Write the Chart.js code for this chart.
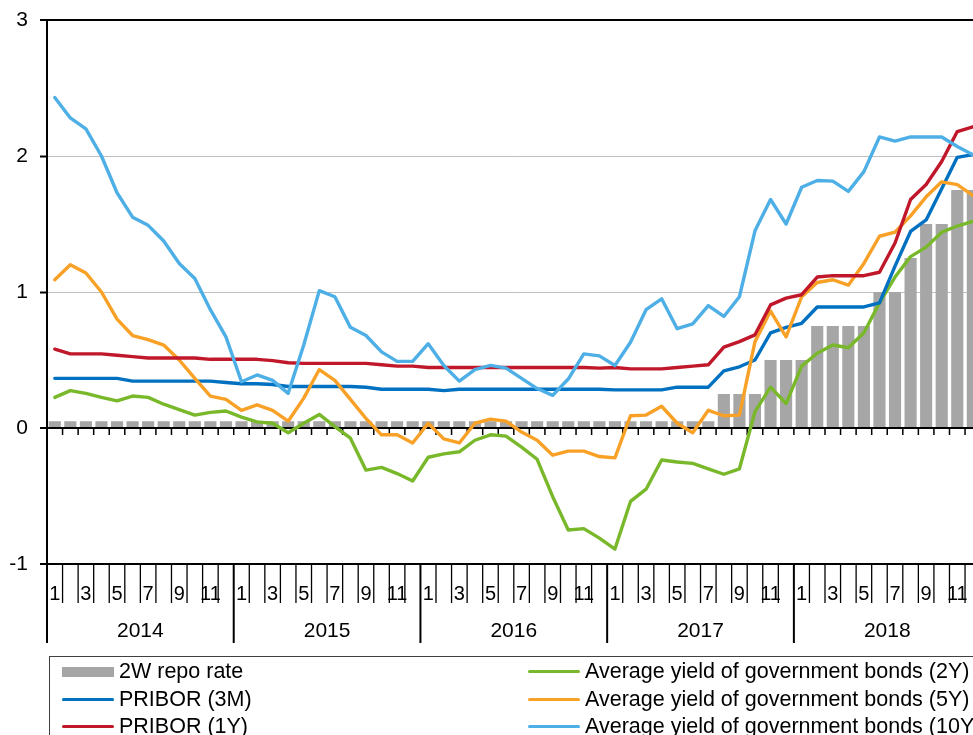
<!DOCTYPE html>
<html>
<head>
<meta charset="utf-8">
<script src="https://cdn.jsdelivr.net/npm/chart.js@4/dist/chart.umd.min.js"></script>
<style>
html,body{margin:0;padding:0;overflow:hidden;background:#fff;width:973px;height:735px;}
#wrap{position:absolute;left:0;top:0;width:990px;height:735px;}
#legend{position:absolute;left:49px;top:656px;width:1000px;height:100px;border:1px solid #404040;
  font-family:"Liberation Sans",Arial,sans-serif;font-size:21.5px;color:#000;}
.item{position:absolute;height:27px;line-height:27px;white-space:nowrap;}
.sw{position:absolute;left:0;width:52px;}
.tx{position:absolute;left:57px;top:0;}
</style>
</head>
<body>
<div id="wrap"><canvas id="c" width="990" height="735"></canvas></div>
<div id="legend"></div>
<script>
// ---- data ----
const years = ['2014', '2015', '2016', '2017', '2018'];
const monthTicks = ['1', '', '3', '', '5', '', '7', '', '9', '', '11', ''];
const yTicks = [-1, 0, 1, 2, 3];

const repoRate = [
  0.05,0.05,0.05,0.05,0.05,0.05,0.05,0.05,0.05,0.05,0.05,0.05,
  0.05,0.05,0.05,0.05,0.05,0.05,0.05,0.05,0.05,0.05,0.05,0.05,
  0.05,0.05,0.05,0.05,0.05,0.05,0.05,0.05,0.05,0.05,0.05,0.05,
  0.05,0.05,0.05,0.05,0.05,0.05,0.05,0.25,0.25,0.25,0.5,0.5,
  0.5,0.75,0.75,0.75,0.75,1.0,1.0,1.25,1.5,1.5,1.75,1.75
];
const pribor3M = [
  0.365,0.365,0.365,0.365,0.365,0.345,0.345,0.345,0.345,0.345,0.345,0.335,
  0.325,0.325,0.32,0.305,0.305,0.305,0.305,0.305,0.30,0.285,0.285,0.285,
  0.285,0.275,0.285,0.285,0.285,0.285,0.285,0.285,0.285,0.285,0.285,0.285,
  0.28,0.28,0.28,0.28,0.30,0.30,0.30,0.42,0.45,0.50,0.70,0.74,
  0.77,0.89,0.89,0.89,0.89,0.92,1.19,1.445,1.53,1.76,1.99,2.01
];
const pribor1Y = [
  0.58,0.545,0.545,0.545,0.535,0.525,0.515,0.515,0.515,0.515,0.505,0.505,
  0.505,0.505,0.495,0.48,0.475,0.475,0.475,0.475,0.475,0.465,0.455,0.455,
  0.445,0.445,0.445,0.445,0.445,0.445,0.445,0.445,0.445,0.445,0.445,0.44,
  0.445,0.435,0.435,0.435,0.445,0.455,0.465,0.595,0.635,0.685,0.905,0.955,
  0.98,1.11,1.12,1.12,1.12,1.145,1.36,1.68,1.79,1.96,2.18,2.215
];
const bond2Y = [
  0.225,0.275,0.255,0.225,0.20,0.235,0.225,0.175,0.135,0.095,0.115,0.125,
  0.08,0.045,0.035,-0.035,0.035,0.10,0.01,-0.075,-0.31,-0.29,-0.335,-0.39,
  -0.215,-0.19,-0.175,-0.09,-0.05,-0.06,-0.14,-0.23,-0.505,-0.75,-0.74,-0.81,
  -0.89,-0.54,-0.45,-0.235,-0.25,-0.26,-0.30,-0.34,-0.30,0.12,0.30,0.18,
  0.455,0.55,0.61,0.59,0.70,0.92,1.11,1.26,1.33,1.44,1.485,1.52
];
const bond5Y = [
  1.09,1.20,1.14,1.00,0.80,0.68,0.65,0.61,0.50,0.365,0.235,0.21,
  0.13,0.17,0.13,0.05,0.22,0.43,0.35,0.21,0.07,-0.05,-0.05,-0.11,
  0.035,-0.08,-0.11,0.035,0.065,0.05,-0.03,-0.09,-0.20,-0.17,-0.17,-0.21,
  -0.22,0.09,0.095,0.16,0.035,-0.035,0.13,0.09,0.095,0.635,0.86,0.67,
  0.965,1.07,1.09,1.05,1.21,1.41,1.44,1.56,1.70,1.81,1.79,1.71
];
const bond10Y = [
  2.43,2.28,2.20,2.00,1.73,1.55,1.49,1.375,1.21,1.10,0.87,0.67,
  0.34,0.39,0.35,0.255,0.61,1.01,0.965,0.74,0.68,0.56,0.49,0.49,
  0.62,0.46,0.345,0.43,0.46,0.44,0.365,0.29,0.24,0.36,0.545,0.53,
  0.46,0.63,0.87,0.95,0.73,0.765,0.90,0.82,0.965,1.45,1.68,1.50,
  1.77,1.82,1.815,1.74,1.885,2.14,2.11,2.14,2.14,2.14,2.07,2.01
];

// categories: year-month
const categories = [];
years.forEach(y => { for (let m = 1; m <= 12; m++) categories.push(y + '-' + m); });

const FONT = '"Liberation Sans", Arial, sans-serif';
Chart.defaults.font.family = FONT;

const xAxisPlugin = {
  id: 'customXAxis',
  beforeDatasetsDraw(chart) {
    const {ctx, scales: {x, y}} = chart;
    const n = categories.length;
    const y0 = y.getPixelForValue(0);
    ctx.save();
    ctx.strokeStyle = '#000';
    ctx.lineWidth = 1.5;
    for (let k = 1; k <= n; k++) {
      const bx = x.getPixelForValue(k - 0.5);
      ctx.beginPath(); ctx.moveTo(bx, y0); ctx.lineTo(bx, y0 + 7); ctx.stroke();
    }
    ctx.restore();
  },
  afterDraw(chart) {
    const {ctx, scales: {x, y}} = chart;
    const n = categories.length;
    const yb = y.getPixelForValue(-1);
    ctx.save();
    ctx.strokeStyle = '#000';
    for (let k = 0; k <= n; k++) {
      const bx = x.getPixelForValue(k - 0.5);
      const isYear = k % 12 === 0;
      ctx.lineWidth = isYear ? 2 : 1.3;
      ctx.beginPath(); ctx.moveTo(bx, yb); ctx.lineTo(bx, yb + (isYear ? 79 : 39)); ctx.stroke();
    }
    ctx.fillStyle = '#000';
    ctx.textAlign = 'center';
    ctx.textBaseline = 'middle';
    ctx.font = '20px ' + FONT;
    for (let i = 0; i < n; i++) {
      const lab = monthTicks[i % 12];
      if (lab) ctx.fillText(lab, x.getPixelForValue(i), yb + 30);
    }
    ctx.font = '21px ' + FONT;
    years.forEach((yr, j) => {
      const cx = (x.getPixelForValue(j * 12 - 0.5) + x.getPixelForValue(j * 12 + 11.5)) / 2;
      ctx.fillText(yr, cx, yb + 67);
    });
    ctx.restore();
  }
};

const ctx = document.getElementById('c').getContext('2d');
const lineDs = (label, data, color, order) => ({
  type: 'line', label, data, borderColor: color, backgroundColor: color,
  borderWidth: 3.4, pointRadius: 0, tension: 0, order,
  borderJoinStyle: 'round', borderCapStyle: 'round'
});

const chart = new Chart(ctx, {
  type: 'bar',
  data: {
    labels: categories,
    datasets: [
      {type: 'bar', label: '2W repo rate', data: repoRate, backgroundColor: '#A6A6A6',
       barPercentage: 0.78, categoryPercentage: 1.0, order: 10},
      lineDs('PRIBOR (3M)', pribor3M, '#0070C0', 4),
      lineDs('PRIBOR (1Y)', pribor1Y, '#C0182A', 2),
      lineDs('Average yield of government bonds (2Y)', bond2Y, '#78B82A', 5),
      lineDs('Average yield of government bonds (5Y)', bond5Y, '#F9A126', 3),
      lineDs('Average yield of government bonds (10Y)', bond10Y, '#4DAFE6', 1)
    ]
  },
  options: {
    responsive: false,
    animation: false,
    devicePixelRatio: 1,
    layout: {padding: {left: 0, top: 20, right: 9.4, bottom: 171}},
    plugins: {legend: {display: false}, tooltip: {enabled: false}},
    scales: {
      x: {display: false, offset: true},
      y: {
        min: yTicks[0], max: yTicks[yTicks.length - 1],
        afterBuildTicks: s => { s.ticks = yTicks.map(v => ({value: v})); },
        afterFit: s => { s.width = 47; s.paddingTop = 0; s.paddingBottom = 0; },
        ticks: {color: '#000', font: {size: 21, family: FONT}, padding: 12},
        grid: {
          color: c => (c.tick && (c.tick.value === 1 || c.tick.value === 2)) ? '#BFBFBF' : '#000',
          lineWidth: c => (c.tick && (c.tick.value === 1 || c.tick.value === 2)) ? 1 : 2,
          tickColor: '#000', tickLength: 7, tickWidth: 2
        },
        border: {color: '#000', width: 2}
      }
    }
  },
  plugins: [xAxisPlugin]
});

// ---- legend (row-major, two columns) ----
const legendLayout = [[0, 3], [1, 4], [2, 5]];
const leg = document.getElementById('legend');
legendLayout.forEach((row, r) => {
  row.forEach((di, c) => {
    const ds = chart.data.datasets[di];
    const item = document.createElement('div');
    item.className = 'item';
    item.style.left = (c === 0 ? 12 : 478) + 'px';
    item.style.top = (1 + r * 27.5) + 'px';
    const sw = document.createElement('div');
    sw.className = 'sw';
    if (ds.type === 'bar') {
      sw.style.height = '10px'; sw.style.top = '8.5px'; sw.style.background = ds.backgroundColor;
    } else {
      sw.style.height = '3px'; sw.style.top = '12px'; sw.style.background = ds.borderColor;
      sw.style.borderRadius = '2px';
    }
    const tx = document.createElement('span');
    tx.className = 'tx';
    tx.textContent = ds.label;
    item.appendChild(sw); item.appendChild(tx);
    leg.appendChild(item);
  });
});
</script>
</body>
</html>
